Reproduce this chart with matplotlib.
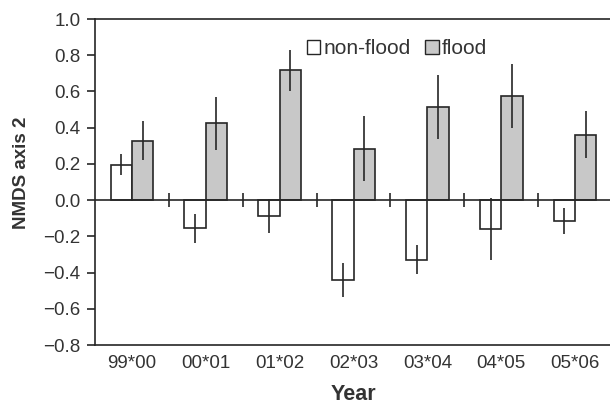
import matplotlib
matplotlib.use("Agg")
import matplotlib.pyplot as plt
import numpy as np
from matplotlib.patches import Patch

plt.rcParams['font.family'] = ['Liberation Sans', 'DejaVu Sans']

years = ["99*00", "00*01", "01*02", "02*03", "03*04", "04*05", "05*06"]
nonflood = [0.195, -0.155, -0.088, -0.442, -0.328, -0.160, -0.116]
nonflood_err = [0.059, 0.081, 0.095, 0.095, 0.078, 0.170, 0.072]
flood = [0.328, 0.424, 0.716, 0.284, 0.514, 0.575, 0.361]
flood_err = [0.107, 0.148, 0.115, 0.180, 0.176, 0.176, 0.131]

dark = "#262626"
grey = "#c8c8c8"

fig = plt.figure(figsize=(6.10, 4.03), dpi=100)
ax = fig.add_axes([95/610, 58/403, 517/610, 326/403])

x = np.arange(len(years))
w = 0.29
ax.bar(x - w/2, nonflood, w, color="white", edgecolor=dark, linewidth=1.2, zorder=2)
ax.bar(x + w/2, flood, w, color=grey, edgecolor=dark, linewidth=1.2, zorder=2)
ax.errorbar(x - w/2, nonflood, yerr=nonflood_err, fmt="none", ecolor=dark,
            elinewidth=1.2, capsize=0, zorder=3)
ax.errorbar(x + w/2, flood, yerr=flood_err, fmt="none", ecolor=dark,
            elinewidth=1.2, capsize=0, zorder=3)

ax.axhline(0, color=dark, linewidth=1.2, zorder=2.5)
ax.vlines(x[:-1] + 0.5, -0.04, 0.04, color=dark, linewidth=1.2, zorder=2.5)

ax.set_xlim(-0.5, len(years) - 0.5)
ax.set_ylim(-0.8, 1.0)
ax.set_yticks(np.arange(-0.8, 1.01, 0.2))
ax.set_yticklabels([f"{v:.1f}".replace("-", "\u2212") if abs(v) > 1e-9 else "0.0"
                    for v in np.arange(-0.8, 1.01, 0.2)])
ax.set_xticks(x)
ax.set_xticklabels(years)
ax.tick_params(axis="x", length=0, pad=7, labelsize=13.5, colors="#333333")
ax.tick_params(axis="y", length=6, width=1.2, pad=4.5, labelsize=13.5,
               colors=dark, labelcolor="#333333")

for s in ["left", "bottom", "top"]:
    ax.spines[s].set_color(dark)
    ax.spines[s].set_linewidth(1.2)
ax.spines["right"].set_visible(False)

fig.text(22/610, 1 - 173/403, "NMDS axis 2", rotation=90, ha="center", va="center",
         fontsize=13.5, fontweight="bold", color="#333333")
fig.text(353.5/610, 1 - 394/403, "Year", ha="center", va="center",
         fontsize=15.5, fontweight="bold", color="#333333")

handles = [Patch(facecolor="white", edgecolor=dark, linewidth=1.0, label="non-flood"),
           Patch(facecolor=grey, edgecolor=dark, linewidth=1.0, label="flood")]
fig.legend(handles=handles, loc="center", bbox_to_anchor=(397/610, 1 - 49/403),
           ncol=2, frameon=False, fontsize=15, handlelength=0.65, handleheight=0.65,
           handletextpad=0.15, columnspacing=0.7, borderpad=0, labelcolor="#333333")

fig.savefig("out.png", dpi=100)
